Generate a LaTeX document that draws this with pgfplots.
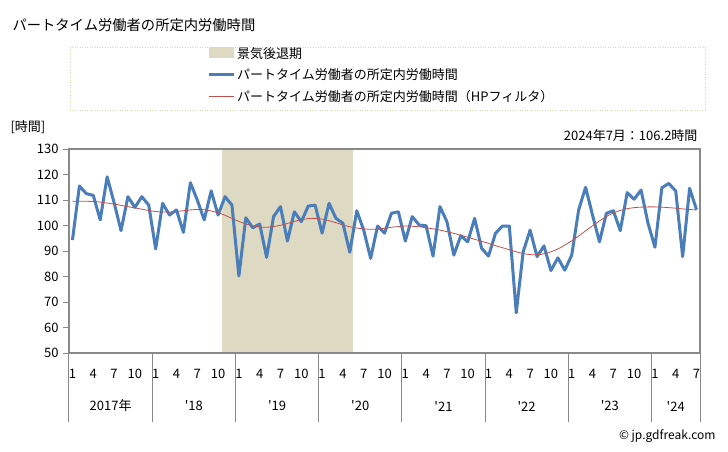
\documentclass[border=0pt]{standalone}
\usepackage{pgfplots}
\pgfplotsset{compat=1.18}
\usepackage{pgfplotstable}
\usepackage{fontspec}
\setmainfont{Noto Sans CJK JP}

\definecolor{recessfill}{HTML}{DDD9C3}
\definecolor{blueline}{HTML}{4A7EBB}
\definecolor{redline}{HTML}{C0504D}
\definecolor{axgray}{HTML}{898989}
\definecolor{legframe}{HTML}{D8D4BC}

% idx 0 = 2017/1 ... idx 90 = 2024/7
\pgfplotstableread{
idx val hp
0 94.3 109.5
1 115.5 109.5
2 112.5 109.5
3 111.8 109.4
4 102.2 109.2
5 119.1 108.8
6 109.0 108.4
7 98.0 107.9
8 111.3 107.4
9 107.1 106.9
10 111.3 106.4
11 108.0 105.9
12 90.8 105.5
13 108.7 105.3
14 104.1 105.3
15 106.1 105.5
16 97.3 105.8
17 116.8 106.1
18 110.0 106.3
19 102.2 106.2
20 113.6 105.7
21 104.1 105.0
22 111.3 104.0
23 108.0 102.8
24 80.2 101.6
25 103.0 100.6
26 99.1 99.9
27 100.6 99.4
28 87.5 99.3
29 103.5 99.6
30 107.4 100.1
31 93.9 100.8
32 105.4 101.6
33 101.5 102.3
34 107.6 102.7
35 108.0 102.8
36 97.0 102.5
37 108.7 101.9
38 102.8 101.1
39 100.9 100.2
40 89.5 99.5
41 105.8 99.0
42 98.2 98.7
43 87.1 98.5
44 99.8 98.6
45 97.0 98.9
46 104.8 99.3
47 105.4 99.6
48 93.9 99.8
49 103.5 99.7
50 100.2 99.5
51 99.9 99.1
52 88.0 98.7
53 107.4 98.2
54 101.5 97.6
55 88.4 96.9
56 96.0 96.2
57 93.6 95.4
58 102.8 94.6
59 91.1 93.8
60 88.0 93.0
61 96.9 92.1
62 99.8 91.3
63 99.8 90.5
64 65.8 89.7
65 89.7 89.0
66 98.2 88.6
67 87.8 88.5
68 92.0 88.9
69 82.3 89.7
70 87.3 90.8
71 82.5 92.3
72 88.4 94.0
73 106.1 95.9
74 115.0 97.9
75 104.1 99.9
76 93.6 101.8
77 104.8 103.5
78 105.8 104.9
79 98.0 105.9
80 112.9 106.6
81 110.3 107.0
82 113.9 107.2
83 100.9 107.3
84 91.5 107.3
85 114.8 107.2
86 116.5 107.0
87 113.5 106.8
88 87.8 106.5
89 114.6 106.3
90 106.2 106.1
}\hours

\begin{document}
\begin{tikzpicture}[x=1pt,y=1pt]
\path[use as bounding box] (0,0) rectangle (728,451);

\node[anchor=west, font=\fontsize{14.3}{16}\selectfont] at (9,426) {パートタイム労働者の所定内労働時間};
\draw[legframe, line width=0.8pt, dash pattern=on 1pt off 1.5pt] (70,404) rectangle (705,341);
\node[anchor=west, font=\fontsize{13}{15}\selectfont] at (7,324) {[時間]};
\node[anchor=east, font=\fontsize{13}{15}\selectfont] at (701,315) {2024年7月：106.2時間};
\node[anchor=east, font=\fontsize{12}{14}\selectfont] at (719,15) {© jp.gdfreak.com};

\begin{axis}[
    at={(69pt,98pt)}, anchor=south west,
    scale only axis, width=631pt, height=204pt,
    xmin=-0.5, xmax=90.5, ymin=50, ymax=130,
    clip=false, axis on top,
    axis line style={axgray, line width=1.2pt},
    tick align=outside, major tick length=6pt,
    ytick={50,60,...,130},
    ytick pos=left, xtick pos=bottom,
    y tick style={axgray, line width=1pt},
    x tick style={draw=none},
    xtick={0,3,...,90},
    xticklabels={1,4,7,10,1,4,7,10,1,4,7,10,1,4,7,10,1,4,7,10,1,4,7,10,1,4,7,10,1,4,7},
    extra x ticks={-0.5,11.5,23.5,35.5,47.5,59.5,71.5,83.5,90.5},
    extra x tick labels={},
    extra x tick style={x tick style={draw=axgray, line width=1pt}, major tick length=69pt},
    tick label style={font=\fontsize{13}{15}\selectfont},
    xticklabel style={yshift=-7pt},
    yticklabel style={xshift=-1pt},
    /pgf/number format/assume math mode=true,
    legend style={at={(0.2187,1.51)}, anchor=north west, draw=none, fill=none,
        font=\fontsize{13}{15}\selectfont, row sep=5pt, inner sep=0pt},
    legend cell align=left,
]
\addplot[fill=recessfill, draw=none,
    legend image code/.code={\fill[recessfill] (0pt,-5pt) rectangle (25pt,6pt);}]
    coordinates {(21.5,50) (21.5,130) (40.5,130) (40.5,50)} -- cycle;
\addlegendentry{景気後退期}
\addplot[blueline, line width=3pt, line join=round,
    legend image code/.code={\draw[blueline, line width=3pt] (0pt,0pt) -- (25pt,0pt);}]
    table[x=idx, y=val] {\hours};
\addlegendentry{パートタイム労働者の所定内労働時間}
\addplot[redline, line width=0.8pt, smooth,
    legend image code/.code={\draw[redline, line width=0.8pt] (0pt,0pt) -- (25pt,0pt);}]
    table[x=idx, y=hp] {\hours};
\addlegendentry{パートタイム労働者の所定内労働時間（HPフィルタ）}

\node[font=\fontsize{13}{15}\selectfont] at (axis cs:5.5,50) [yshift=-53pt] {2017年};
\node[font=\fontsize{13}{15}\selectfont] at (axis cs:17.5,50) [yshift=-53pt] {\textquotesingle18};
\node[font=\fontsize{13}{15}\selectfont] at (axis cs:29.5,50) [yshift=-53pt] {\textquotesingle19};
\node[font=\fontsize{13}{15}\selectfont] at (axis cs:41.5,50) [yshift=-53pt] {\textquotesingle20};
\node[font=\fontsize{13}{15}\selectfont] at (axis cs:53.5,50) [yshift=-53pt] {\textquotesingle21};
\node[font=\fontsize{13}{15}\selectfont] at (axis cs:65.5,50) [yshift=-53pt] {\textquotesingle22};
\node[font=\fontsize{13}{15}\selectfont] at (axis cs:77.5,50) [yshift=-53pt] {\textquotesingle23};
\node[font=\fontsize{13}{15}\selectfont] at (axis cs:87,50) [yshift=-53pt] {\textquotesingle24};
\end{axis}
\end{tikzpicture}
\end{document}
